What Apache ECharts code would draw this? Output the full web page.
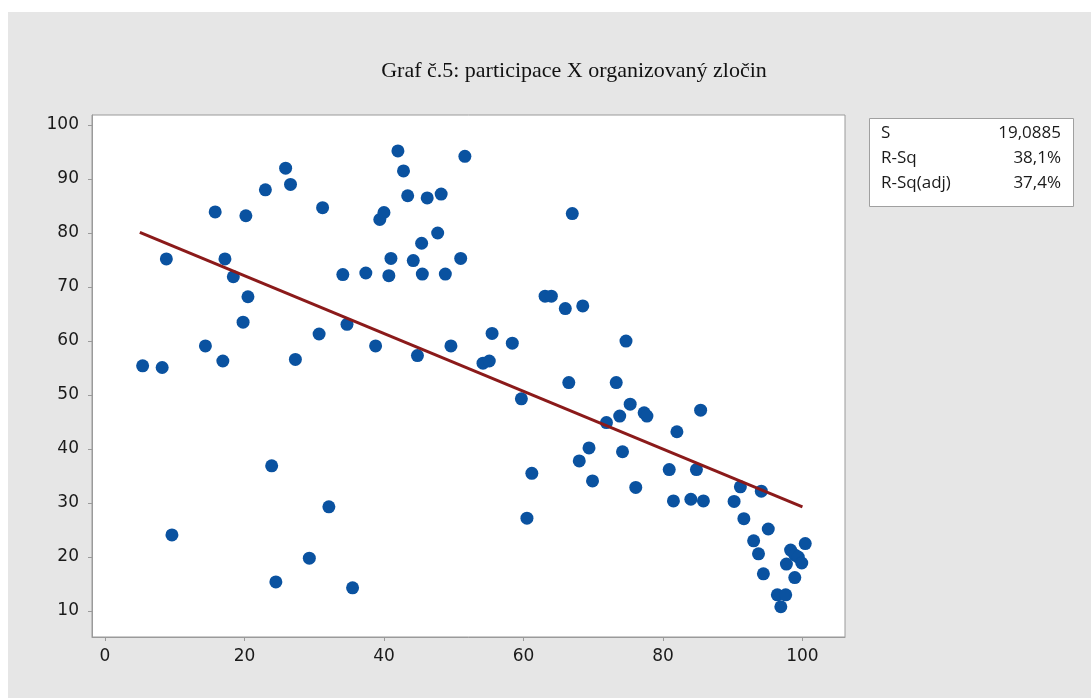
<!DOCTYPE html>
<html>
<head>
<meta charset="utf-8">
<script src="https://cdn.jsdelivr.net/npm/echarts@6/dist/echarts.min.js"></script>
<style>
html,body{margin:0;padding:0;background:#ffffff;}
#chart{width:1091px;height:698px;}
</style>
</head>
<body>
<div id="chart"></div>
<script>
// ---- data ----
const titleText = 'Graf č.5: participace X organizovaný zločin';
const xTicks = [0, 20, 40, 60, 80, 100];
const yTicks = [10, 20, 30, 40, 50, 60, 70, 80, 90, 100];
const pointsX = [5.4, 8.2, 8.8, 9.6, 14.4, 15.8, 16.9, 17.2, 18.4, 19.8,
  20.2, 20.5, 23.0, 23.9, 24.5, 25.9, 26.6, 27.3, 29.3, 30.7,
  31.2, 32.1, 34.1, 34.7, 35.5, 37.4, 38.8, 39.4, 40.0, 40.7,
  41.0, 42.0, 42.8, 43.4, 44.2, 44.8, 45.4, 45.5, 46.2, 47.7,
  48.2, 48.8, 49.6, 51.0, 51.6, 54.2, 55.1, 55.5, 58.4, 59.7,
  60.5, 61.2, 63.1, 64.0, 66.0, 66.5, 67.0, 68.0, 68.5, 69.4,
  69.9, 71.9, 73.3, 73.8, 74.2, 74.7, 75.3, 76.1, 77.3, 77.7,
  80.9, 81.5, 82.0, 84.0, 84.8, 85.4, 85.8, 90.2, 91.1, 91.6,
  93.0, 93.7, 94.1, 94.4, 95.1, 96.4, 96.9, 97.6, 97.7, 98.3,
  98.9, 98.9, 99.4, 99.9, 100.4];
const pointsY = [55.4, 55.1, 75.2, 24.1, 59.1, 83.9, 56.3, 75.2, 71.9, 63.5,
  83.2, 68.2, 88.0, 36.9, 15.4, 92.0, 89.0, 56.6, 19.8, 61.3,
  84.7, 29.3, 72.3, 63.1, 14.3, 72.6, 59.1, 82.5, 83.8, 72.1,
  75.3, 95.2, 91.5, 86.9, 74.9, 57.3, 78.1, 72.4, 86.5, 80.0,
  87.2, 72.4, 59.1, 75.3, 94.2, 55.9, 56.3, 61.4, 59.6, 49.3,
  27.2, 35.5, 68.3, 68.3, 66.0, 52.3, 83.6, 37.8, 66.5, 40.2,
  34.1, 44.9, 52.3, 46.1, 39.5, 60.0, 48.3, 32.9, 46.7, 46.1,
  36.2, 30.4, 43.2, 30.7, 36.2, 47.2, 30.4, 30.3, 33.0, 27.1,
  23.0, 20.6, 32.2, 16.9, 25.2, 13.0, 10.8, 13.0, 18.7, 21.3,
  16.2, 20.4, 20.0, 18.9, 22.5];
const fitX = [5.0, 100.0];
const fitY = [80.1, 29.3];
const statLabels = ['S', 'R-Sq', 'R-Sq(adj)'];
const statValues = ['19,0885', '38,1%', '37,4%'];

const scatterData = pointsX.map((x, i) => [x, pointsY[i]]);
const fitData = fitX.map((x, i) => [x, fitY[i]]);

const chart = echarts.init(document.getElementById('chart'), null, {renderer: 'canvas'});

const labelFont = {fontFamily: 'DejaVu Sans', fontSize: 17, color: '#1a1a1a'};
const statFont = 'Open Sans';

const graphics = [
  {type: 'rect', z: -10, silent: true,
   shape: {x: 8, y: 12, width: 1091 - 8, height: 698 - 12},
   style: {fill: '#e6e6e6'}},
  {type: 'rect', z: 10, silent: true,
   shape: {x: 869.5, y: 118.5, width: 204, height: 88},
   style: {fill: '#ffffff', stroke: '#a0a0a0', lineWidth: 1}}
];
statLabels.forEach((s, i) => {
  graphics.push({type: 'text', z: 11, silent: true, left: 881, top: 125 + i * 25,
    style: {text: s, font: '17px ' + statFont, fill: '#1a1a1a'}});
  graphics.push({type: 'text', z: 11, silent: true, right: 1091 - 1061, top: 125 + i * 25,
    style: {text: statValues[i], font: '17px ' + statFont, fill: '#1a1a1a', textAlign: 'right'}});
});

chart.setOption({
  animation: false,
  backgroundColor: 'transparent',
  title: {
    text: titleText,
    left: 569, top: 55, textAlign: 'center',
    textStyle: {fontFamily: 'Liberation Serif', fontSize: 22, fontWeight: 'normal', color: '#111'}
  },
  grid: {
    left: 92, top: 115, right: 1091 - 845, bottom: 698 - 637,
    show: true, backgroundColor: '#ffffff', borderColor: '#9a9a9a', borderWidth: 1,
    containLabel: false
  },
  xAxis: {
    type: 'value', min: -1.86, max: 106.1,
    axisLine: {show: true, onZero: false, lineStyle: {color: '#9a9a9a'}},
    axisTick: {show: true, length: 4, inside: false, customValues: xTicks, lineStyle: {color: '#9a9a9a'}},
    axisLabel: Object.assign({margin: 11, customValues: xTicks}, labelFont),
    splitLine: {show: false}
  },
  yAxis: {
    type: 'value', min: 5.2, max: 101.85,
    axisLine: {show: true, onZero: false, lineStyle: {color: '#9a9a9a'}},
    axisTick: {show: true, length: 4, inside: false, customValues: yTicks, lineStyle: {color: '#9a9a9a'}},
    axisLabel: Object.assign({margin: 13, customValues: yTicks}, labelFont),
    splitLine: {show: false}
  },
  graphic: graphics,
  series: [
    {
      type: 'scatter', data: scatterData, symbol: 'circle', symbolSize: 13,
      itemStyle: {color: '#0a52a0', opacity: 1}, z: 2
    },
    {
      type: 'line', data: fitData, showSymbol: false, symbol: 'none',
      lineStyle: {color: '#8b1a1a', width: 3}, z: 3
    }
  ]
});
</script>
</body>
</html>
